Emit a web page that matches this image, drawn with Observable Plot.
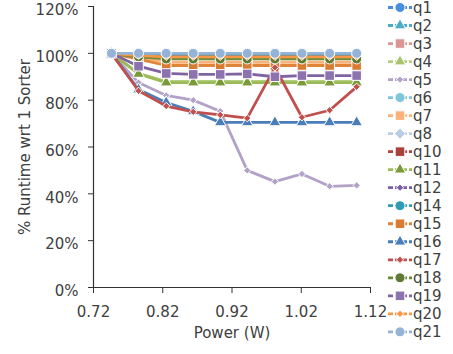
<!DOCTYPE html>
<html><head><meta charset="utf-8">
<script src="https://cdn.jsdelivr.net/npm/d3@7"></script>
<script src="https://cdn.jsdelivr.net/npm/@observablehq/plot@0.6"></script>
<style>
body{margin:0;background:#fff;}
#wrap{position:relative;width:453px;height:354px;font-family:"DejaVu Sans";}
#legend{position:absolute;left:0;top:0;}
</style></head><body><div id="wrap"><div id="chart"></div></div>
<script>
const power = [0.746, 0.785, 0.825, 0.864, 0.903, 0.942, 0.982, 1.021, 1.061, 1.100];
const xTicks = [0.72, 0.82, 0.92, 1.02, 1.12];
const yTicks = [0, 20, 40, 60, 80, 100, 120];

const q1  = [100, 100, 100, 100, 100, 100, 100, 100, 100, 100];
const q2  = [100, 99.6, 99.5, 99.5, 99.5, 99.5, 99.5, 99.5, 99.5, 99.5];
const q3  = [100, 99.3, 99, 99, 99, 99, 99, 99, 99, 99];
const q4  = [100, 91.5, 88, 88, 88, 88, 88, 88, 88, 88];
const q5  = [100, 87.5, 82, 80, 75.3, 50, 45.2, 48.5, 43.2, 43.6];
const q6  = [100, 100, 99.8, 99.8, 99.8, 99.8, 99.8, 99.8, 99.8, 99.8];
const q7  = [100, 98, 96.2, 96.2, 96.2, 96.2, 96.2, 96.2, 96.2, 96.2];
const q8  = [100, 100, 100, 100, 100, 100, 100, 100, 100, 100];
const q10 = [100, 99.3, 98.8, 98.8, 98.8, 98.8, 98.8, 98.8, 98.8, 98.8];
const q11 = [100, 91.2, 87.5, 87.5, 87.5, 87.5, 87.5, 87.5, 87.5, 87.5];
const q12 = [100, 99.2, 99, 99, 99, 99, 99, 99, 99, 99];
const q14 = [100, 99.8, 99.6, 99.6, 99.6, 99.6, 99.6, 99.6, 99.6, 99.6];
const q15 = [100, 97.5, 94.8, 94.8, 94.8, 94.8, 94.8, 94.8, 94.8, 94.8];
const q16 = [100, 84.5, 79, 75.2, 70.5, 70.5, 70.5, 70.5, 70.5, 70.5];
const q17 = [100, 84, 77.5, 75, 73.7, 72.3, 94, 72.7, 75.7, 85.7];
const q18 = [100, 98.5, 97.6, 97.6, 97.6, 97.6, 97.6, 97.6, 97.6, 97.6];
const q19 = [100, 94.5, 91.4, 91, 91, 91.2, 90, 90.5, 90.5, 90.5];
const q20 = [100, 99, 98.5, 98.5, 98.5, 98.5, 98.5, 98.5, 98.5, 98.5];
const q21 = [100, 100, 100, 100, 100, 100, 100, 100, 100, 100];

const seriesNames = ["q1","q2","q3","q4","q5","q6","q7","q8","q10","q11","q12","q14","q15","q16","q17","q18","q19","q20","q21"];
const seriesValues = [q1,q2,q3,q4,q5,q6,q7,q8,q10,q11,q12,q14,q15,q16,q17,q18,q19,q20,q21];
const lineColors = ["#4a8ede","#4bacc6","#d99694","#b5cf80","#b3a2c7","#7fc6d9","#fbb27a","#b9cde5","#b0443f","#9bbb59","#7b5ea6","#2f9db5","#e0843a","#4a7ebb","#c0504d","#6b8a38","#8064a2","#f79646","#95b3d7"];
const markerColors = ["#4a8ede","#4bacc6","#d99694","#a9c46e","#b3a2c7","#7fc6d9","#fbb27a","#b9cde5","#a8403b","#7a9a3a","#7b5ea6","#2f9db5","#d97b33","#4a7ebb","#c0504d","#5f7a32","#8d72b0","#f79646","#95b3d7"];
const symbols = ["circle","triangle","square","triangle","diamond2","circle","square","diamond2","square","triangle","diamond2","circle","square","triangle","diamond2","circle","square","diamond2","circle"];

const symR = {circle: 5, square: 5.4, triangle: 4.3, diamond2: 3.3};
const radius = (i) => (symbols[i] === "diamond2" && seriesNames[i] === "q8") ? 5 : symR[symbols[i]];
const marks = [];
seriesNames.forEach((name, i) => {
  const data = power.map((p, j) => ({power: p, value: seriesValues[i][j], name}));
  marks.push(Plot.line(data, {x: "power", y: "value", stroke: lineColors[i], strokeWidth: 2.8}));
  marks.push(Plot.dot(data, {x: "power", y: "value", symbol: () => symbols[i], r: radius(i), fill: markerColors[i], stroke: "white", strokeWidth: 1}));
});

const chart = Plot.plot({
  width: 453, height: 354,
  marginLeft: 93, marginRight: 83, marginTop: 6, marginBottom: 67,
  style: {fontFamily: "DejaVu Sans", fontSize: "15px", color: "#404040", background: "white", overflow: "visible"},
  x: {domain: [0.72, 1.12]},
  y: {domain: [0, 120]},
  symbol: {type: "identity"},
  marks: [
    Plot.axisX({ticks: xTicks, tickFormat: d3.format(".2f"), tickSize: 6, tickPadding: 13, stroke: "#333", label: null}),
    Plot.axisY({ticks: yTicks, text: null, tickSize: 5, stroke: "#333", label: null}),
    Plot.axisY({ticks: yTicks, tickFormat: d => d + "%", tickSize: 0, tickPadding: 15, dy: 4, label: null}),
    Plot.ruleX([0.72], {y1: 0, y2: 120, stroke: "#333", strokeWidth: 1.2}),
    Plot.ruleY([0], {stroke: "#333", strokeWidth: 1.2}),
    Plot.text(["Power (W)"], {frameAnchor: "bottom", dy: 50, fontSize: 15, fill: "#404040"}),
    Plot.text(["% Runtime wrt 1 Sorter"], {frameAnchor: "left", dx: -68, rotate: -90, textAnchor: "middle", fontSize: 15, fill: "#404040"}),
    ...marks
  ]
});
document.getElementById("chart").appendChild(chart);

// legend
const leg = d3.select("#wrap").append("svg").attr("id","legend").attr("width",453).attr("height",354);
seriesNames.forEach((name, i) => {
  const y = 7.5 + 18.02 * i;
  const g = leg.append("g").attr("transform", `translate(0,${y})`);
  g.append("line").attr("x1",388).attr("x2",412).attr("y1",0).attr("y2",0).attr("stroke",lineColors[i]).attr("stroke-width",2.8).attr("stroke-dasharray","5,2");
  const sym = {circle: d3.symbolCircle, square: d3.symbolSquare, triangle: d3.symbolTriangle, diamond2: d3.symbolDiamond2}[symbols[i]];
  const r = radius(i);
  g.append("path").attr("transform","translate(400,0)").attr("d", d3.symbol(sym, Math.PI*r*r)()).attr("fill",markerColors[i]).attr("stroke","white").attr("stroke-width",1);
  g.append("text").attr("x",413).attr("y",0).attr("dy","0.35em").attr("font-size",15).attr("fill","#404040").attr("font-family","DejaVu Sans").text(name);
});
</script></body></html>
